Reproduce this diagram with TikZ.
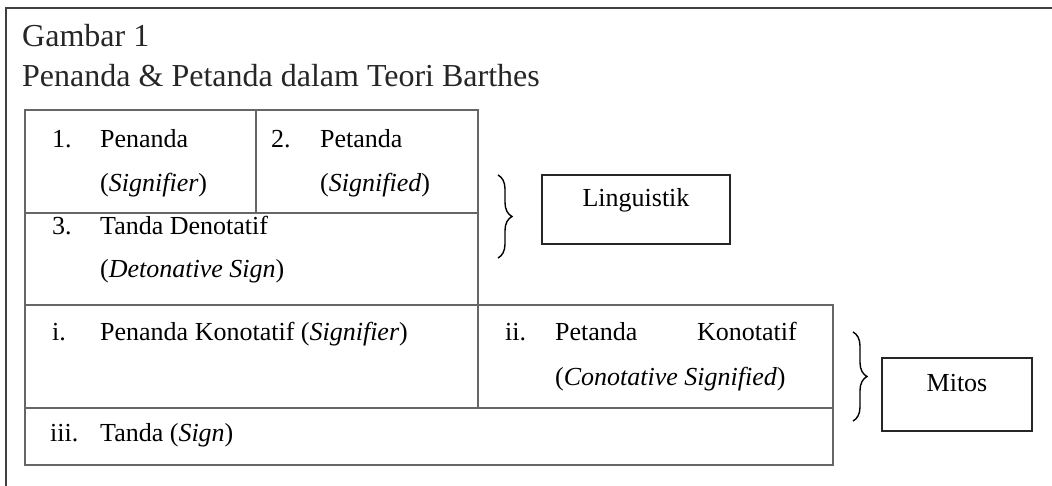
\documentclass[tikz,border=0pt]{standalone}
\usepackage{fontspec}
\setmainfont{Liberation Serif}
\usetikzlibrary{decorations.pathreplacing}
\begin{document}
\begin{tikzpicture}[x=1pt,y=-1pt,
  tline/.style={draw=black!60,line width=1.3pt},
  frame/.style={draw=black!75,line width=1.4pt},
  lbox/.style={draw=black!85,line width=1.8pt},
  txt/.style={anchor=base west,inner sep=0pt,font=\fontsize{26}{30}\selectfont},
  ttl/.style={anchor=base west,inner sep=0pt,font=\fontsize{32}{36}\selectfont,text=black!85},
  brc/.style={draw=black,line width=1.4pt,decorate,decoration={brace,amplitude=14pt}}]
\useasboundingbox (0,0) rectangle (1052,486);
% outer frame (open on right and bottom)
\draw[frame] (6,486) -- (6,8) -- (1052,8);
% title
\node[ttl] (g1) at (22,47) {Gambar 1};
\node[ttl] (g2) at (22,87) {Penanda \& Petanda dalam Teori Barthes};
% table
\draw[tline] (25,110) rectangle (478,305);
\draw[tline] (256,110) -- (256,213);
\draw[tline] (25,213) -- (478,213);
\draw[tline] (25,305) rectangle (833,465);
\draw[tline] (478,305) -- (478,408);
\draw[tline] (25,408) -- (833,408);
% texts
\node[txt] (n1) at (52,148) {1.};
\node[txt] (p1) at (100,148) {Penanda};
\node[txt] (p1b) at (100,192) {(\textit{Signifier})};
\node[txt] (n2) at (271,148) {2.};
\node[txt] (p2) at (320,148) {Petanda};
\node[txt] (p2b) at (320,192) {(\textit{Signified})};
\node[txt] (n3) at (52,235) {3.};
\node[txt] (p3) at (100,235) {Tanda Denotatif};
\node[txt] (p3b) at (100,278) {(\textit{Detonative Sign})};
\node[txt] (ni) at (52,340) {i.};
\node[txt] (pi) at (100,340) {Penanda Konotatif (\textit{Signifier})};
\node[txt] (nii) at (505,340) {ii.};
\node[txt] (pii) at (555,340) {Petanda};
\node[anchor=base east,inner sep=0pt,font=\fontsize{26}{30}\selectfont] (pii2) at (797,340) {Konotatif};
\node[txt] (piib) at (555,385) {(\textit{Conotative Signified})};
\node[txt] (niii) at (50,441) {iii.};
\node[txt] (piii) at (100,441) {Tanda (\textit{Sign})};
% braces
\coordinate (b1t) at (498,175);
\coordinate (b1b) at (498,258);
\draw[brc] (b1t) -- (b1b);
\coordinate (b2t) at (853,332);
\coordinate (b2b) at (853,421);
\draw[brc] (b2t) -- (b2b);
% boxes
\draw[lbox] (542,175) rectangle (730,244);
\node[txt,anchor=base] (ling) at (636,207) {Linguistik};
\draw[lbox] (882,358) rectangle (1032,431);
\node[txt,anchor=base] (mit) at (957,391) {Mitos};
\end{tikzpicture}
\end{document}
